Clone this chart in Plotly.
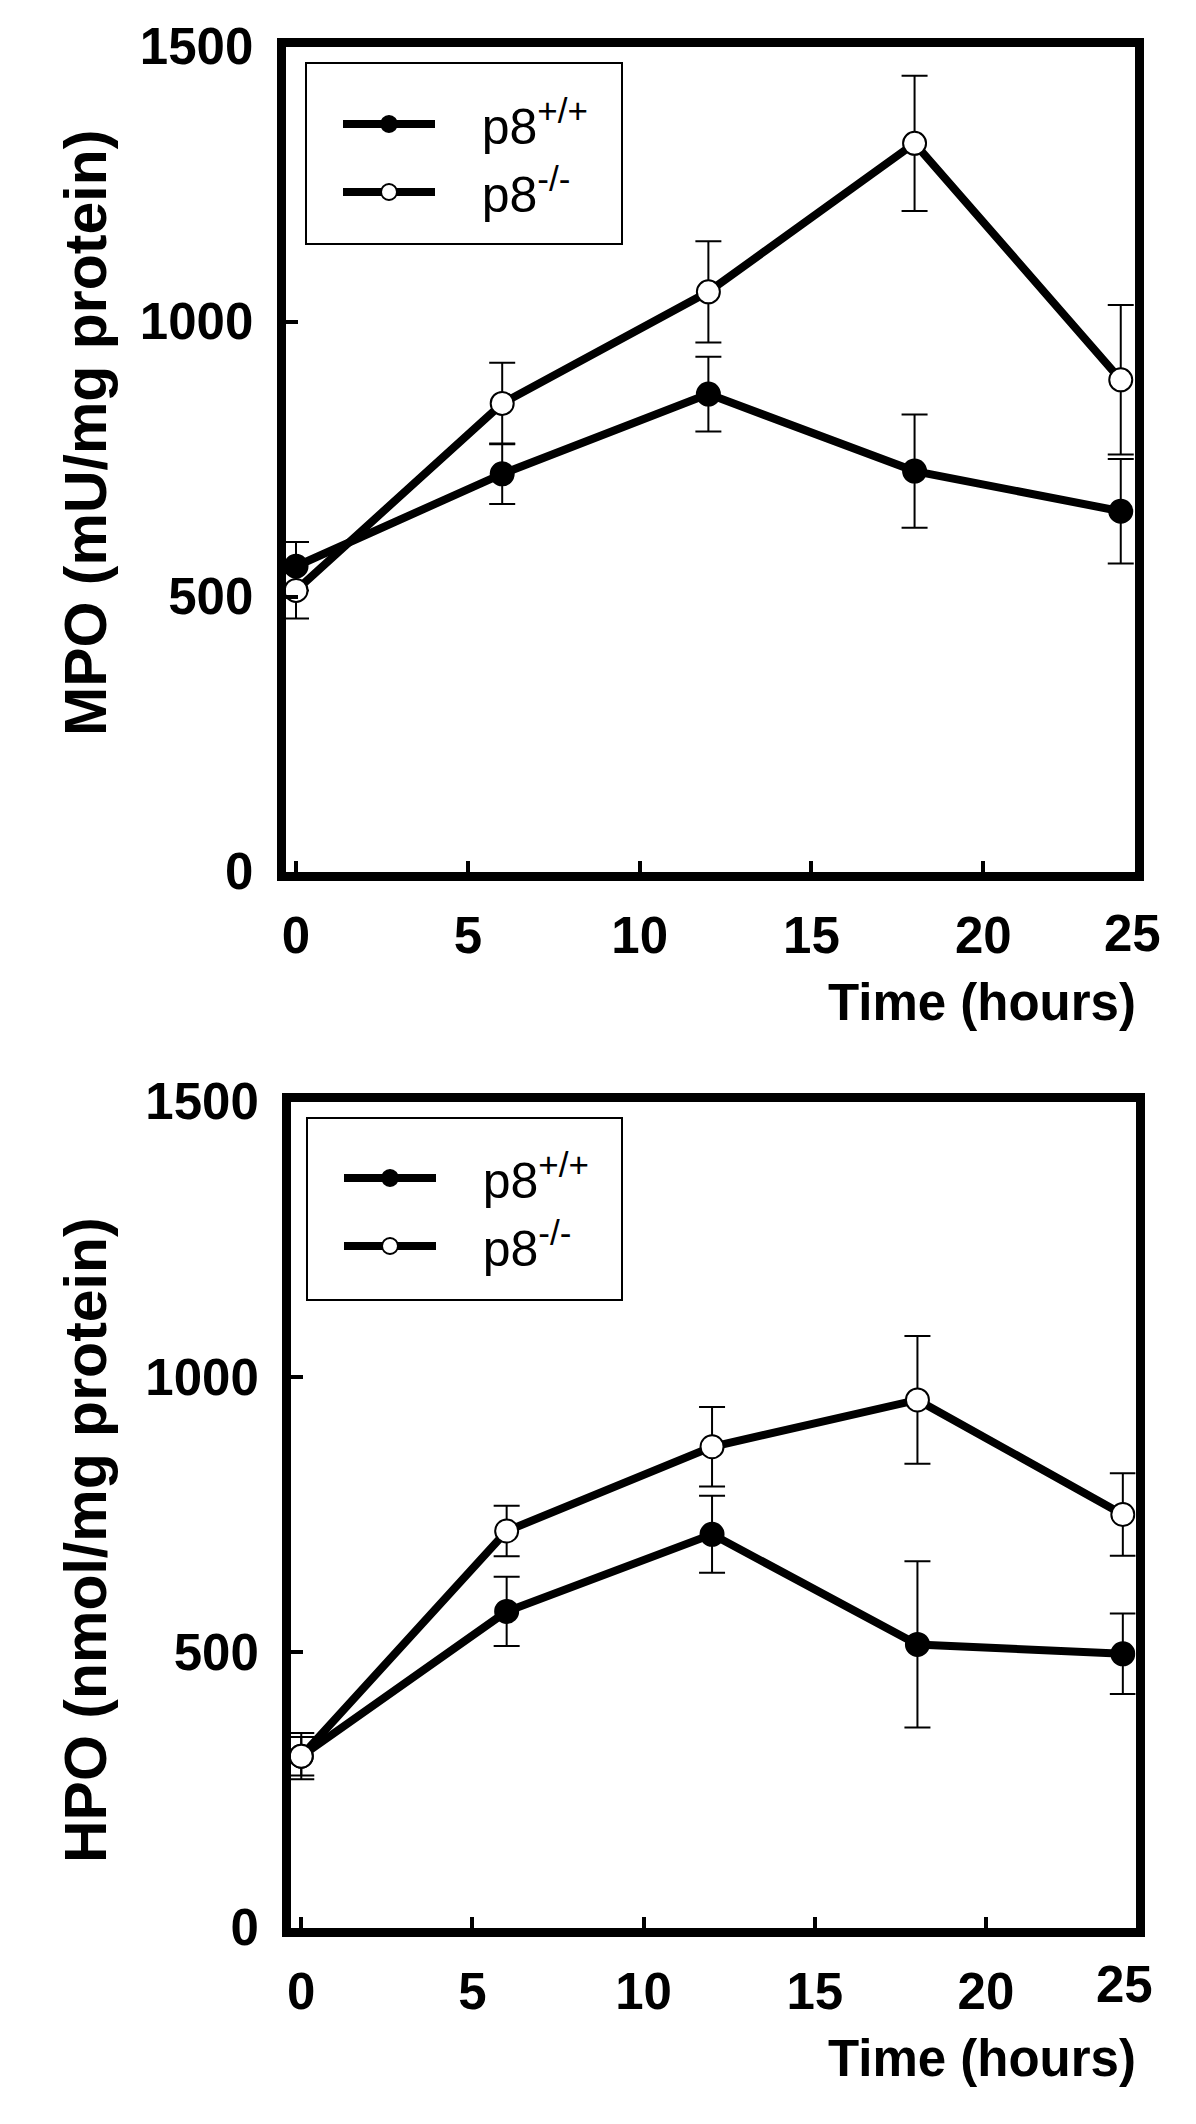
import plotly.graph_objects as go

# ---------------- data ----------------
hours = [0, 6, 12, 18, 24]

mpo_wt = [555, 723, 868, 728, 655]
mpo_wt_err = [44, 55, 68, 103, 95]
mpo_ko = [511, 851, 1054, 1324, 894]
mpo_ko_err = [51, 74, 92, 123, 136]

hpo_wt = [311, 574, 714, 514, 497]
hpo_wt_err = [35, 63, 70, 151, 73]
hpo_ko = [311, 720, 873, 958, 750]
hpo_ko_err = [42, 46, 72, 116, 75]

series_names = ["p8<sup>+/+</sup>", "p8<sup>-/-</sup>"]
y_ticks = [0, 500, 1000, 1500]
x_ticks = [0, 5, 10, 15, 20]
x_last_label = "25"
y_titles = ["MPO (mU/mg protein)", "HPO (nmol/mg protein)"]
x_title = "Time (hours)"

# ---------------- figure ----------------
W, H = 1196, 2124
OFF = 8  # page body margin of the html page
FONT = "Liberation Sans, Arial, sans-serif"
PAD = "\u00a0\u00a0\u00a0"


def px_x(p):
    return (p - OFF) / W


def px_y(p):
    return 1 - (p - OFF) / H


fig = go.Figure()


def add_pair(wt, wt_err, ko, ko_err, xa, ya, leg):
    fig.add_trace(go.Scatter(
        x=hours, y=wt, mode="lines+markers", name=PAD + series_names[0],
        xaxis=xa, yaxis=ya, legend=leg,
        line=dict(color="black", width=8),
        marker=dict(symbol="circle", size=23, color="black",
                    line=dict(color="black", width=2)),
        error_y=dict(type="data", array=wt_err, visible=True,
                     color="black", thickness=2, width=13),
    ))
    fig.add_trace(go.Scatter(
        x=hours, y=ko, mode="lines+markers", name=PAD + series_names[1],
        xaxis=xa, yaxis=ya, legend=leg,
        line=dict(color="black", width=8),
        marker=dict(symbol="circle", size=23, color="white",
                    line=dict(color="black", width=2)),
        error_y=dict(type="data", array=ko_err, visible=True,
                     color="black", thickness=2, width=13),
    ))


add_pair(mpo_wt, mpo_wt_err, mpo_ko, mpo_ko_err, "x", "y", "legend")
add_pair(hpo_wt, hpo_wt_err, hpo_ko, hpo_ko_err, "x2", "y2", "legend2")

tickfont = dict(family=FONT, size=51, color="black", weight="bold")

axis_common = dict(
    showline=True, linewidth=9, linecolor="black", mirror=True,
    showgrid=False, zeroline=False, ticks="inside", tickcolor="black",
    tickwidth=4, tickfont=tickfont, automargin=False,
)

legend_common = dict(
    bgcolor="rgba(0,0,0,0)", borderwidth=0,
    font=dict(family=FONT, size=50, color="black"),
    xanchor="left", yanchor="top", tracegroupgap=0, itemwidth=92,
)

fig.update_layout(
    width=W, height=H,
    margin=dict(l=0, r=0, t=0, b=0, pad=0, autoexpand=False),
    paper_bgcolor="white", plot_bgcolor="white",
    showlegend=True,
    xaxis=dict(domain=[px_x(285.5), px_x(1134.5)], anchor="y",
               range=[-0.306, 24.40], tickvals=x_ticks, ticklen=11,
               ticklabelstandoff=11, **axis_common),
    yaxis=dict(domain=[px_y(871.5), px_y(46.5)], anchor="x",
               range=[0, 1500], tickvals=y_ticks, ticklen=12,
               ticklabelstandoff=13, **axis_common),
    xaxis2=dict(domain=[px_x(291), px_x(1135.5)], anchor="y2",
                range=[-0.30, 24.37], tickvals=x_ticks, ticklen=11,
                ticklabelstandoff=11, **axis_common),
    yaxis2=dict(domain=[px_y(1927.5), px_y(1101.5)], anchor="x2",
                range=[0, 1500], tickvals=y_ticks, ticklen=12,
                ticklabelstandoff=13, **axis_common),
    legend=dict(x=px_x(338), y=px_y(85), **legend_common),
    legend2=dict(x=px_x(339), y=px_y(1139), **legend_common),
)

# legend frames
for (x0, y0, x1, y1) in [(306, 63, 622, 244), (307, 1118, 622, 1300)]:
    fig.add_shape(type="rect", xref="paper", yref="paper",
                  x0=px_x(x0), x1=px_x(x1), y0=px_y(y1), y1=px_y(y0),
                  line=dict(color="black", width=2), fillcolor="rgba(0,0,0,0)",
                  layer="above")

bold = dict(family=FONT, color="black", weight="bold")

# y-axis titles
for txt, yc in zip(y_titles, [433, 1540]):
    fig.add_annotation(text=txt, xref="paper", yref="paper",
                       x=px_x(86), y=px_y(yc), showarrow=False,
                       textangle=-90, xanchor="center", yanchor="middle",
                       font=dict(size=59, **bold))

# x-axis titles (right aligned)
for yc in [1002, 2058]:
    fig.add_annotation(text=x_title, xref="paper", yref="paper",
                       x=px_x(1138), y=px_y(yc), showarrow=False,
                       xanchor="right", yanchor="middle",
                       font=dict(size=51, **bold))

# last x label "25" sitting at the right frame
for xc, yc in [(1132, 933), (1124, 1984)]:
    fig.add_annotation(text=x_last_label, xref="paper", yref="paper",
                       x=px_x(xc), y=px_y(yc), showarrow=False,
                       xanchor="center", yanchor="middle",
                       font=dict(size=51, **bold))

fig.write_html("out.html")
